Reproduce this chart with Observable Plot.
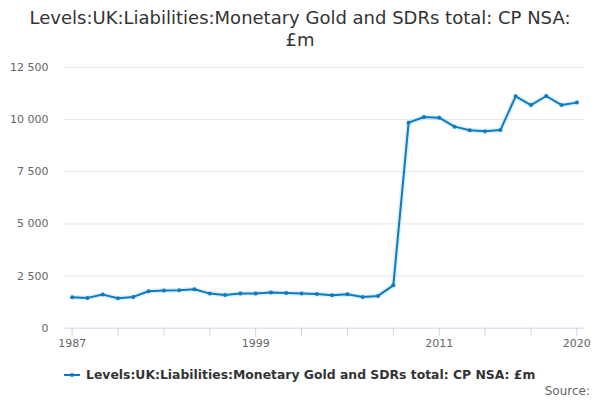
<!DOCTYPE html>
<html><head><meta charset="utf-8">
<script src="https://cdn.jsdelivr.net/npm/d3@7"></script>
<script src="https://cdn.jsdelivr.net/npm/@observablehq/plot@0.6"></script>
<style>
body{margin:0;background:#fff;font-family:"DejaVu Sans",sans-serif;}
#wrap{width:600px;height:400px;position:relative;overflow:hidden}
#title{position:absolute;top:7px;left:25px;width:550px;text-align:center;font-size:18px;line-height:22px;color:#333}
#chart{position:absolute;top:50px;left:0}
#legend{position:absolute;top:367px;left:64px;font-size:12.4px;font-weight:bold;color:#333;display:flex;align-items:center;white-space:nowrap}
#legend svg{margin-right:6px}
#source{position:absolute;top:384px;right:10px;font-size:12px;color:#666}
</style>
</head><body>
<div id="wrap">
<div id="title">Levels:UK:Liabilities:Monetary Gold and SDRs total: CP NSA: £m</div>
<div id="chart"></div>
<div id="legend"><svg width="16" height="10"><line x1="0" y1="5" x2="16" y2="5" stroke="#0b7cc1" stroke-width="2"/><circle cx="8" cy="5" r="2" fill="#0b7cc1"/></svg><span>Levels:UK:Liabilities:Monetary Gold and SDRs total: CP NSA: £m</span></div>
<div id="source">Source:</div>
</div>
<script>
const years = [1987,1988,1989,1990,1991,1992,1993,1994,1995,1996,1997,1998,1999,2000,2001,2002,2003,2004,2005,2006,2007,2008,2009,2010,2011,2012,2013,2014,2015,2016,2017,2018,2019,2020];
const values = [1482,1453,1611,1434,1500,1769,1802,1816,1864,1659,1596,1659,1659,1706,1690,1659,1643,1578,1627,1500,1547,2055,9856,10125,10096,9664,9487,9439,9501,11118,10701,11133,10701,10816];
const xTicks = [1987,1990,1993,1996,1999,2002,2005,2008,2011,2014,2017,2020];
const xLabels = [1987,1999,2011,2020];
const yTicks = [0,2500,5000,7500,10000,12500];
const color = "#0b7cc1";
const data = years.map((y,i)=>({year:y, value:values[i]}));
const H = 305;
const chart = Plot.plot({
  width:600, height:H,
  marginTop:17, marginBottom:H-277.7, marginLeft:64, marginRight:16,
  style:{fontFamily:"DejaVu Sans", fontSize:"11px", background:"#fff"},
  x:{domain:[1986.5,2020.5]},
  y:{domain:[0,12500]},
  marks:[
    Plot.gridY(yTicks.filter(d=>d>0),{stroke:"#e6e6e6", strokeOpacity:1}),
    Plot.ruleY([0],{stroke:"#ccd6eb"}),
    Plot.axisX({ticks:xTicks, tickSize:9, tickPadding:2, stroke:"#ccd6eb", fill:"#666", tickFormat:d=>xLabels.includes(d)?String(d):"", label:null}),
    Plot.axisY({ticks:yTicks, tickSize:0, tickPadding:16, fill:"#666", tickFormat:d=>d3.format(",")(d).replace(/,/g," "), label:null}),
    Plot.line(data,{x:"year", y:"value", stroke:color, strokeWidth:5, strokeOpacity:0.12}),
    Plot.line(data,{x:"year", y:"value", stroke:color, strokeWidth:2}),
    Plot.dot(data,{x:"year", y:"value", r:2, fill:color})
  ]
});
document.getElementById("chart").appendChild(chart);
</script>
</body></html>
